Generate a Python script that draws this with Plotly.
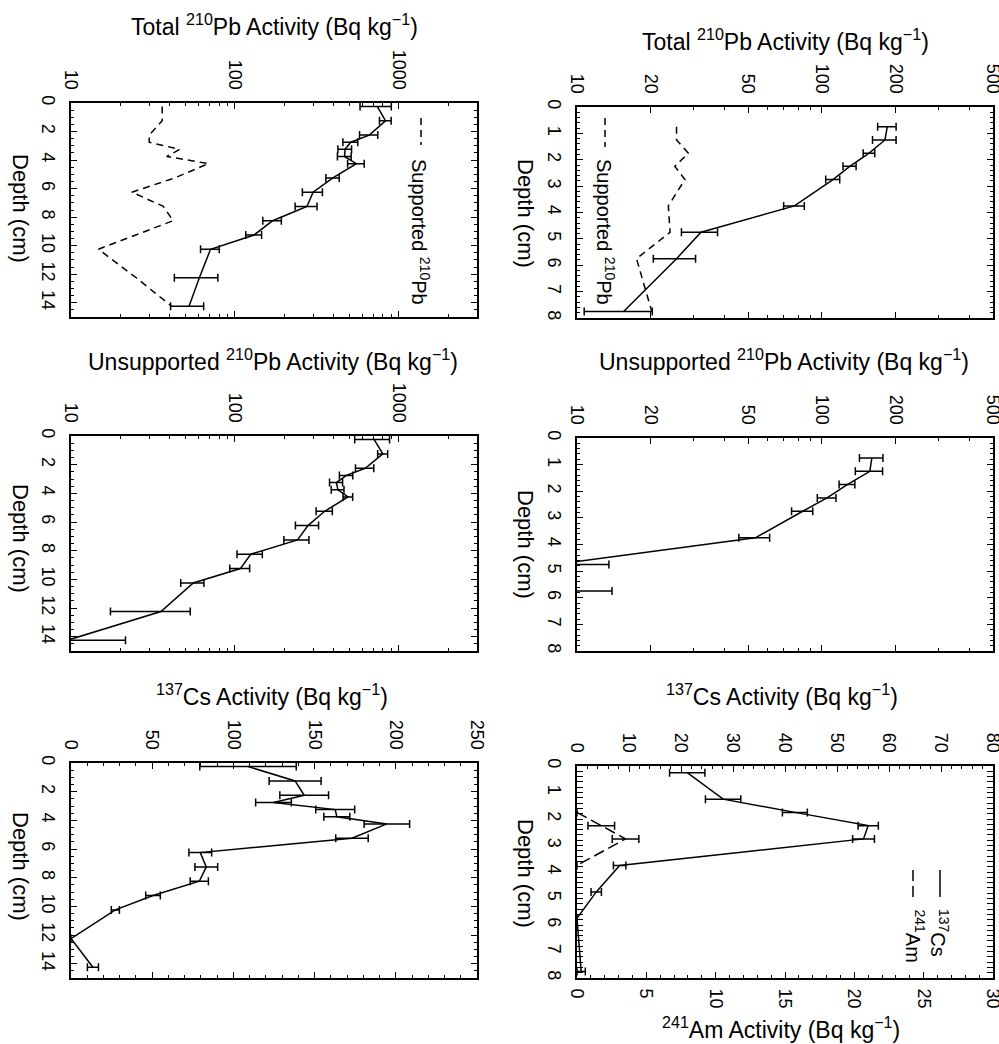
import plotly.graph_objects as go

W, H = 999, 1044
FONT = "Liberation Sans, Arial, sans-serif"

# ---------------- data ----------------
# Core A (left column), depth 0-15 cm
depth_a = [0.25, 1.25, 2.25, 2.75, 3.25, 3.75, 4.25, 5.25, 6.25, 7.25, 8.25, 9.25, 10.25, 12.25, 14.25]
total_a = [740, 830, 660, 509, 470, 467, 551, 396, 300, 275, 170, 131, 71, 60.7, 52.5]
total_a_err = [160, 68, 84, 53, 45, 45, 64, 37, 42, 42, 22, 14.5, 9.3, 18, 12]
supported_a = [36, 36, 30, 30, 46, 38.4, 69, 43, 23.5, 36.6, 42, 24.6, 14.7, 25, 41.2]
unsup_a = [708, 799, 624, 479, 416, 425, 490, 353, 279, 241, 125, 108, 55.7, 35.4, 9.5]
unsup_a_err = [170, 56, 80, 45, 38, 38, 33, 40, 45, 42, 22, 15, 9, 18, 12]
depth_cs_a = [0.25, 1.25, 2.25, 2.75, 3.25, 3.75, 4.25, 5.25, 6.25, 7.25, 8.25, 9.25, 10.25, 12.25, 14.25]
cs_a = [109, 138, 143.6, 124.7, 162.7, 163.7, 194.5, 173, 79.6, 83.3, 79, 50.5, 27.3, 0, 13.5]
cs_a_err = [29.7, 16, 15, 11, 12, 8, 14, 10, 7, 7, 5.6, 4.5, 2.5, None, 3.4]

# Core B (right column), depth 0-8 cm
depth_b = [0.75, 1.25, 1.75, 2.25, 2.75, 3.75, 4.75, 5.75, 7.75]
total_b = [185, 181, 156, 130, 111, 77.3, 32.1, 25.5, 15.5]
total_b_err = [16, 20, 8.5, 8, 7.3, 7.5, 5.4, 5, 4.8]
supported_b = [25.5, 25.5, 28.5, 25.1, 27.6, 23.6, 24.0, 17.5, 20.2]
depth_ub = [0.75, 1.25, 1.75, 2.25, 2.75, 3.75, 4.75, 5.75]
unsup_b = [160, 157, 127, 105, 83.5, 53.5, 8.1, 8.4]
unsup_b_err = [17.6, 20, 9.4, 9.2, 8.3, 7.7, 5.4, 5.5]
depth_cs_b = [0.25, 1.25, 1.75, 2.25, 2.75, 3.75, 4.75, 5.75, 7.75]
cs_b = [21.2, 28.1, 41.9, 56.0, 55.1, 8.2, 3.7, 0, 0.8]
cs_b_err = [3.4, 3.4, 2.4, 1.95, 2.1, 1.2, 1.0, None, 0.8]
depth_am_b = [1.75, 2.25, 2.75, 3.75]
am_b = [0, 1.75, 3.5, 0]
am_b_err = [None, 0.96, 0.96, None]

log_ticks_a = [10, 100, 1000]
log_minor_a = [20, 30, 40, 50, 60, 70, 80, 90, 200, 300, 400, 500, 600, 700, 800, 900, 2000, 3000]
log_ticks_b = [10, 20, 50, 100, 200, 500]
log_minor_b = [30, 40, 60, 70, 80, 90, 300, 400]

# ---------------- layout helpers ----------------
panels = {
    1: dict(x=(71, 477), y=(103, 317)),
    2: dict(x=(577, 993), y=(107, 318)),
    3: dict(x=(71, 477), y=(436, 651)),
    4: dict(x=(577, 993), y=(438, 651)),
    5: dict(x=(71, 477), y=(763, 978)),
    6: dict(x=(577, 993), y=(766, 978)),
}

def fx(p):
    return p / W

def fy(p):
    return 1 - p / H

def xdom(p):
    return [fx(p[0]), fx(p[1])]

def ydom(p):
    return [fy(p[1]), fy(p[0])]

SUP_DASH = "7px,5px"
AM_DASH = "11px,5px"

def trace(x, y, err, xa, ya, dash="solid"):
    t = go.Scatter(x=x, y=y, mode="lines", xaxis=xa, yaxis=ya,
                   line=dict(color="black", width=1.5, dash=dash),
                   showlegend=False, hoverinfo="skip")
    if err is not None:
        t.error_x = dict(type="data", array=err, symmetric=True,
                         color="black", thickness=1.5, width=4)
    return t

fig = go.Figure()
fig.add_trace(trace(total_a, depth_a, total_a_err, "x", "y"))
fig.add_trace(trace(supported_a, depth_a, None, "x", "y", dash=SUP_DASH))
fig.add_trace(trace(total_b, depth_b, total_b_err, "x2", "y2"))
fig.add_trace(trace(supported_b, depth_b, None, "x2", "y2", dash=SUP_DASH))
fig.add_trace(trace(unsup_a, depth_a, unsup_a_err, "x3", "y3"))
fig.add_trace(trace(unsup_b, depth_ub, unsup_b_err, "x4", "y4"))
fig.add_trace(trace(cs_a, depth_cs_a, cs_a_err, "x5", "y5"))
fig.add_trace(trace(cs_b, depth_cs_b, cs_b_err, "x6", "y6"))
fig.add_trace(trace(am_b, depth_am_b, am_b_err, "x7", "y6", dash=AM_DASH))

tickfont = dict(family=FONT, size=18, color="black")
common = dict(showline=True, linecolor="black", linewidth=2, ticks="inside",
              ticklen=6, tickwidth=1, tickcolor="black", showgrid=False,
              zeroline=False, tickfont=tickfont, tickangle=90, automargin=False,
              ticklabeloverflow="allow", ticklabelstandoff=5)
minor_common = dict(ticks="inside", ticklen=3, tickwidth=1, tickcolor="black", showgrid=False)

lay = {}
lay["xaxis"] = dict(common, domain=xdom(panels[1]["x"]), anchor="y", side="top", mirror="allticks",
                    type="log", range=[1, 3.4771], tickmode="array", tickvals=log_ticks_a,
                    ticktext=[str(v) for v in log_ticks_a],
                    minor=dict(minor_common, tickvals=log_minor_a))
lay["xaxis2"] = dict(common, domain=xdom(panels[2]["x"]), anchor="y2", side="top", mirror="allticks",
                     type="log", range=[1, 2.69897], tickmode="array", tickvals=log_ticks_b,
                     ticktext=[str(v) for v in log_ticks_b],
                     minor=dict(minor_common, tickvals=log_minor_b))
lay["xaxis3"] = dict(common, domain=xdom(panels[3]["x"]), anchor="y3", side="top", mirror="allticks",
                     type="log", range=[1, 3.4771], tickmode="array", tickvals=log_ticks_a,
                     ticktext=[str(v) for v in log_ticks_a],
                     minor=dict(minor_common, tickvals=log_minor_a))
lay["xaxis4"] = dict(common, domain=xdom(panels[4]["x"]), anchor="y4", side="top", mirror="allticks",
                     type="log", range=[1, 2.69897], tickmode="array", tickvals=log_ticks_b,
                     ticktext=[str(v) for v in log_ticks_b],
                     minor=dict(minor_common, tickvals=log_minor_b))
lay["xaxis5"] = dict(common, domain=xdom(panels[5]["x"]), anchor="y5", side="top", mirror="allticks",
                     range=[0, 250], tickmode="linear", tick0=0, dtick=50,
                     minor=dict(minor_common, dtick=10))
lay["xaxis6"] = dict(common, domain=xdom(panels[6]["x"]), anchor="y6", side="top",
                     range=[0, 80], tickmode="linear", tick0=0, dtick=10,
                     minor=dict(minor_common, dtick=2))
lay["xaxis7"] = dict(common, overlaying="x6", anchor="y6", side="bottom",
                     range=[0, 30], tickmode="linear", tick0=0, dtick=5,
                     minor=dict(minor_common, dtick=1))
for i in range(1, 7):
    key = "yaxis" if i == 1 else f"yaxis{i}"
    xa = "x" if i == 1 else f"x{i}"
    if i % 2 == 1:
        lay[key] = dict(common, domain=ydom(panels[i]["y"]), anchor=xa, side="left", mirror="allticks",
                        range=[15, 0], tickmode="linear", tick0=0, dtick=2,
                        minor=dict(minor_common, dtick=0.5))
    else:
        lay[key] = dict(common, domain=ydom(panels[i]["y"]), anchor=xa, side="left", mirror="allticks",
                        range=[8, 0], tickmode="linear", tick0=0, dtick=1,
                        minor=dict(minor_common, dtick=0.2))

ann = []
def text(x, y, s, size=23, angle=0, xanchor="center", yanchor="middle"):
    ann.append(dict(x=fx(x), y=fy(y), xref="paper", yref="paper", text=s, showarrow=False,
                    textangle=angle, xanchor=xanchor, yanchor=yanchor,
                    font=dict(family=FONT, size=size, color="black")))

kg = "(Bq kg<sup>−1</sup>)"
text(274, 25, f"Total <sup>210</sup>Pb Activity {kg}")
text(785, 40, f"Total <sup>210</sup>Pb Activity {kg}")
text(273, 360, f"Unsupported <sup>210</sup>Pb Activity {kg}")
text(784, 360, f"Unsupported <sup>210</sup>Pb Activity {kg}")
text(272, 695, f"<sup>137</sup>Cs Activity {kg}")
text(782, 695, f"<sup>137</sup>Cs Activity {kg}")
text(781, 1028, f"<sup>241</sup>Am Activity {kg}")
for (x, y) in [(21, 208), (526, 213), (21, 538), (526, 544), (21, 866), (526, 873)]:
    text(x, y, "Depth (cm)", size=22, angle=90)

# legends
text(606, 157, "Supported <sup>210</sup>Pb", size=20, angle=90, yanchor="top")
text(421, 157, "Supported <sup>210</sup>Pb", size=20, angle=90, yanchor="top")
text(940, 907, "<sup>137</sup>Cs", size=20, angle=90, yanchor="top")
text(915, 907, "<sup>241</sup>Am", size=20, angle=90, yanchor="top")

shapes = []
def seg(x, y0, y1, dash):
    shapes.append(dict(type="line", xref="paper", yref="paper", x0=fx(x), x1=fx(x),
                       y0=fy(y0), y1=fy(y1),
                       line=dict(color="black", width=1.5, dash=dash)))
seg(605, 118, 147, SUP_DASH)
seg(421, 118, 145, SUP_DASH)
seg(940, 870, 897, "solid")
seg(913, 870, 897, AM_DASH)

fig.update_layout(template="none", width=W, height=H, margin=dict(l=0, r=0, t=0, b=0, pad=0),
                  paper_bgcolor="white", plot_bgcolor="white",
                  font=dict(family=FONT, color="black"),
                  annotations=ann, shapes=shapes, showlegend=False, **lay)

# remove the default page margin so the figure fills the window exactly
fig.write_html("out.html", config={"displayModeBar": False},
               post_script="document.body.style.margin='0';document.body.style.overflow='hidden';")
